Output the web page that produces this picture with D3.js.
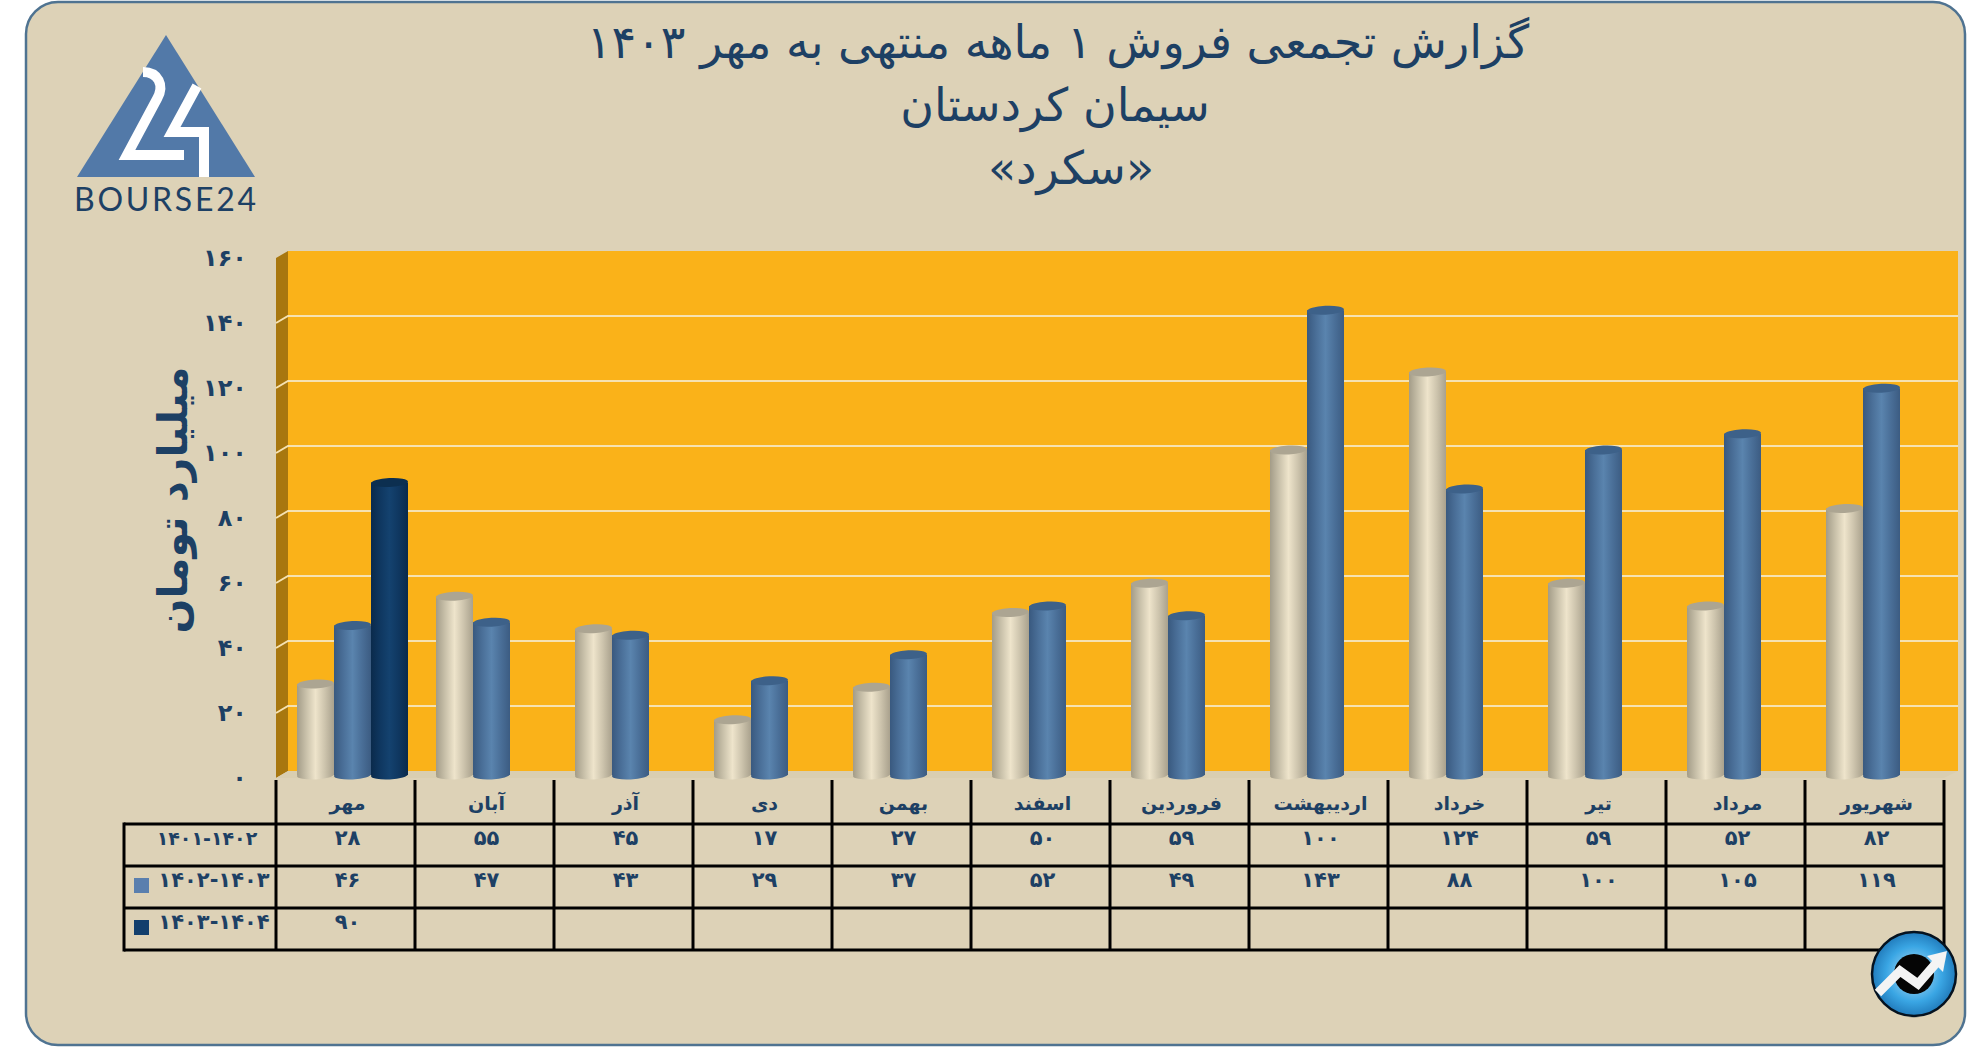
<!DOCTYPE html>
<html lang="fa">
<head>
<meta charset="utf-8">
<title>سکرد</title>
<script src="https://cdnjs.cloudflare.com/ajax/libs/d3/7.8.5/d3.min.js"></script>
<style>
  html, body { margin: 0; padding: 0; background: #fff; overflow: hidden; }
  text { font-family: "DejaVu Sans", sans-serif; fill: #1d4064; }
  .bold { font-weight: bold; }
</style>
</head>
<body>
<svg id="chart" width="1986" height="1047"></svg>
<script>
const months = ['مهر', 'آبان', 'آذر', 'دی', 'بهمن', 'اسفند', 'فروردین', 'اردیبهشت', 'خرداد', 'تیر', 'مرداد', 'شهریور'];
const sales1401 = [28, 55, 45, 17, 27, 50, 59, 100, 124, 59, 52, 82];
const sales1402 = [46, 47, 43, 29, 37, 52, 49, 143, 88, 100, 105, 119];
const sales1403 = [90];
const seriesNames = ['۱۴۰۱-۱۴۰۲', '۱۴۰۲-۱۴۰۳', '۱۴۰۳-۱۴۰۴'];
const seriesValues = [sales1401, sales1402, sales1403];
const yTicks = [0, 20, 40, 60, 80, 100, 120, 140, 160];
const titleLines = ['گزارش تجمعی فروش ۱ ماهه منتهی به مهر ۱۴۰۳', 'سیمان کردستان', '«سکرد»'];
const yTitle = 'میلیارد تومان';

const fa = (n) => String(n).replace(/\d/g, (c) => '۰۱۲۳۴۵۶۷۸۹'[c]);

const svg = d3.select('#chart');
const defs = svg.append('defs');

// depth of the fake 3d box
const dx = 12, dy = -7;
const yBase = 778, yTop = 258;
const tableLeft = 124, colLeft = 276, colRight = 1944, wallRight = 1958;
const rowLines = [824, 866, 908, 950];

const x = d3.scaleBand().domain(months).range([colLeft, colRight]);
const xInner = d3.scaleBand().domain([0, 1, 2]).range([21, 132]);
const y = d3.scaleLinear().domain([0, 160]).range([yBase, yTop]);

// panel
svg.append('rect')
  .attr('x', 26).attr('y', 2)
  .attr('width', 1939).attr('height', 1043)
  .attr('rx', 32)
  .attr('fill', '#ddd2b7')
  .attr('stroke', '#4f7391')
  .attr('stroke-width', 2.5);

// titles
const titleX = [1058, 1055, 1071];
const titleY = [45, 108, 171];
svg.selectAll('text.title')
  .data(titleLines)
  .enter().append('text')
  .attr('class', 'title')
  .attr('direction', 'rtl')
  .attr('text-anchor', 'middle')
  .attr('dominant-baseline', 'middle')
  .attr('x', (d, i) => titleX[i])
  .attr('y', (d, i) => titleY[i])
  .style('font-size', '46px')
  .text((d) => d);

// logo
const logo = svg.append('g');
logo.append('path').attr('d', 'M166,35L255,177H77Z').attr('fill', '#5279a8');
logo.append('path')
  .attr('d', 'M143,72C158,72 165,85 157,99L127,155H184')
  .attr('fill', 'none').attr('stroke', '#fff').attr('stroke-width', 10);
logo.append('path')
  .attr('d', 'M197,86L172,132H204V177')
  .attr('fill', 'none').attr('stroke', '#fff').attr('stroke-width', 10);
logo.append('text')
  .attr('x', 74).attr('y', 211)
  .attr('textLength', 182)
  .attr('lengthAdjust', 'spacing')
  .style('font-family', 'Lato, sans-serif')
  .style('font-size', '32px')
  .text('BOURSE24');

// box: back wall, side wall, floor
svg.append('rect')
  .attr('x', colLeft + dx).attr('y', yTop + dy)
  .attr('width', wallRight - colLeft - dx).attr('height', yBase - yTop)
  .attr('fill', '#fab219');
svg.append('polygon')
  .attr('points', [[colLeft, yTop], [colLeft + dx, yTop + dy], [colLeft + dx, yBase + dy], [colLeft, yBase]].join(' '))
  .attr('fill', '#a8770f');
svg.append('polygon')
  .attr('points', [[colLeft, yBase], [colLeft + dx, yBase + dy], [wallRight, yBase + dy], [colRight, yBase]].join(' '))
  .attr('fill', '#d9ceb1');

// gridlines
const grid = svg.append('g').attr('fill', 'none').attr('stroke', '#f6e2b1').attr('stroke-width', 2);
grid.selectAll('path')
  .data(yTicks.slice(1, -1))
  .enter().append('path')
  .attr('d', (d) => `M${colLeft},${y(d)}L${colLeft + dx},${y(d) + dy}H${wallRight}`);

// y axis
svg.append('g')
  .attr('class', 'bold')
  .attr('transform', `translate(${colLeft},0)`)
  .call(d3.axisLeft(y).tickValues(yTicks).tickSize(0).tickPadding(29).tickFormat(fa))
  .call((g) => g.select('.domain').remove())
  .selectAll('text')
  .style('font-size', '24px')
  .style('font-family', '"DejaVu Sans", sans-serif')
  .style('fill', '#1d4064');

svg.append('text')
  .attr('class', 'bold')
  .attr('direction', 'rtl')
  .attr('text-anchor', 'middle')
  .attr('dominant-baseline', 'middle')
  .attr('transform', 'translate(176,500) rotate(-90)')
  .style('font-size', '41px')
  .text(yTitle);

// cylinder gradients
const ramps = [
  ['#a39c88', '#c9c1aa', '#eee4cb', '#cdc4ad', '#a9a18d'],
  ['#39597f', '#4a6f98', '#5a84ae', '#4a6f98', '#3c5c82'],
  ['#0a2a4b', '#0f3760', '#14426f', '#0f3760', '#0a2a4b'],
];
const capColor = ['#aca592', '#3d6189', '#0c2f50'];
ramps.forEach((ramp, i) => {
  defs.append('linearGradient')
    .attr('id', 'cyl' + i)
    .selectAll('stop')
    .data(ramp)
    .enter().append('stop')
    .attr('offset', (d, k) => k / (ramp.length - 1))
    .attr('stop-color', (d) => d);
});

// bars, pulled up a little off the front edge of the floor
const ry = 4.5;
seriesValues.forEach((values, s) => {
  const bar = svg.append('g').selectAll('g')
    .data(values)
    .enter().append('g')
    .attr('transform', (d, i) => `translate(${x(months[i]) + xInner(s)},-3)`);
  const w = xInner.bandwidth();
  bar.append('rect')
    .attr('y', (d) => y(d))
    .attr('width', w)
    .attr('height', (d) => y(0) - y(d))
    .attr('fill', `url(#cyl${s})`);
  bar.append('ellipse')
    .attr('cx', w / 2).attr('cy', y(0))
    .attr('rx', w / 2).attr('ry', ry)
    .attr('transform', `rotate(-3 ${w / 2} ${y(0)})`)
    .attr('fill', `url(#cyl${s})`);
  bar.append('ellipse')
    .attr('cx', w / 2).attr('cy', (d) => y(d))
    .attr('rx', w / 2).attr('ry', ry)
    .attr('transform', (d) => `rotate(-3 ${w / 2} ${y(d)})`)
    .attr('fill', capColor[s]);
});

// data table
const table = svg.append('g').attr('stroke', '#000').attr('stroke-width', 3);
table.selectAll('line.h')
  .data(rowLines)
  .enter().append('line')
  .attr('class', 'h')
  .attr('x1', tableLeft).attr('x2', colRight)
  .attr('y1', (d) => d).attr('y2', (d) => d);
table.selectAll('line.v')
  .data(months.concat(['end']))
  .enter().append('line')
  .attr('class', 'v')
  .attr('x1', (d) => d === 'end' ? colRight : x(d))
  .attr('x2', (d) => d === 'end' ? colRight : x(d))
  .attr('y1', 780).attr('y2', rowLines[3]);
table.append('line')
  .attr('x1', tableLeft).attr('x2', tableLeft)
  .attr('y1', rowLines[0] - 1.5).attr('y2', rowLines[3] + 1.5);

svg.append('g').selectAll('text')
  .data(months)
  .enter().append('text')
  .attr('class', 'bold')
  .attr('direction', 'rtl')
  .attr('text-anchor', 'middle')
  .attr('dominant-baseline', 'middle')
  .attr('x', (d) => x(d) + x.bandwidth() / 2 + 2)
  .attr('y', 804)
  .style('font-size', '19px')
  .text((d) => d);

const nameX = [207, 214, 214];
const nameSize = [19, 21, 21];
seriesValues.forEach((values, s) => {
  const cy = rowLines[s] + 15;
  svg.append('g').selectAll('text')
    .data(values)
    .enter().append('text')
    .attr('class', 'bold')
    .attr('text-anchor', 'middle')
    .attr('dominant-baseline', 'middle')
    .attr('x', (d, i) => x(months[i]) + x.bandwidth() / 2 + 2)
    .attr('y', cy)
    .style('font-size', '21px')
    .text(fa);
  svg.append('text')
    .attr('class', 'bold')
    .attr('text-anchor', 'middle')
    .attr('dominant-baseline', 'middle')
    .attr('x', nameX[s])
    .attr('y', cy)
    .style('font-size', nameSize[s] + 'px')
    .text(seriesNames[s]);
});

// legend keys inside the table
const keyColor = [null, '#5a7fae', '#123f6d'];
[1, 2].forEach((s) => {
  svg.append('rect')
    .attr('x', 134).attr('y', rowLines[s] + 12)
    .attr('width', 15).attr('height', 15)
    .attr('fill', keyColor[s]);
});

// round badge, bottom right
const badgeGrad = defs.append('radialGradient')
  .attr('id', 'badge').attr('cx', 0.5).attr('cy', 0.5).attr('r', 0.55);
badgeGrad.append('stop').attr('offset', 0).attr('stop-color', '#bfe3f7');
badgeGrad.append('stop').attr('offset', 0.6).attr('stop-color', '#3aa6e4');
badgeGrad.append('stop').attr('offset', 1).attr('stop-color', '#1a6fb0');
const badge = svg.append('g');
badge.append('circle').attr('cx', 1914).attr('cy', 974).attr('r', 42)
  .attr('fill', 'url(#badge)').attr('stroke', '#05121f').attr('stroke-width', 2.5);
badge.append('circle').attr('cx', 1914).attr('cy', 974).attr('r', 20).attr('fill', '#050505');
badge.append('path')
  .attr('d', 'M1878,993L1900,971L1918,984L1938,961')
  .attr('fill', 'none').attr('stroke', '#f4f4f4').attr('stroke-width', 9);
badge.append('path').attr('d', 'M1947,951L1943,972L1927,956Z').attr('fill', '#f4f4f4');
</script>
</body>
</html>
